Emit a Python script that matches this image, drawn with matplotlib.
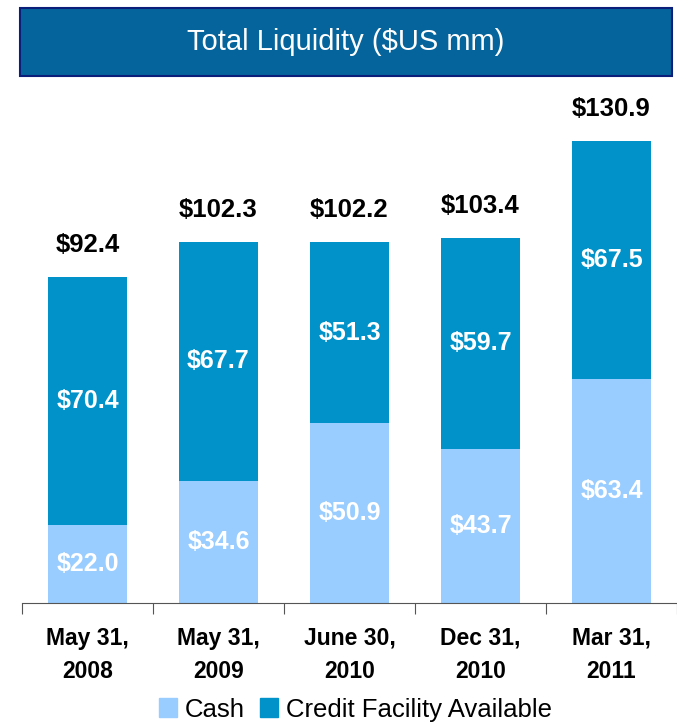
import matplotlib
matplotlib.use("Agg")
import matplotlib.pyplot as plt
from matplotlib.patches import Rectangle, Patch

# 数据
dates = ["May 31,\n2008", "May 31,\n2009", "June 30,\n2010", "Dec 31,\n2010", "Mar 31,\n2011"]
cash = [22.0, 34.6, 50.9, 43.7, 63.4]
credit = [70.4, 67.7, 51.3, 59.7, 67.5]
totals = [92.4, 102.3, 102.2, 103.4, 130.9]

cash_color = "#99CCFF"
credit_color = "#0092C8"

plt.rcParams["font.family"] = ["Liberation Sans", "DejaVu Sans"]

fig = plt.figure(figsize=(6.77, 7.24), dpi=100)

# 标题横幅
fig.patches.append(Rectangle((0.0295, 0.895), 0.963, 0.094, transform=fig.transFigure,
                             facecolor="#05649C", edgecolor="#0B1F7A", linewidth=1.5))
fig.text(0.511, 0.942, "Total Liquidity ($US mm)", color="white", fontsize=21,
         ha="center", va="center")

ax = fig.add_axes([22 / 677, 0.1671, 1 - 22 / 677, 0.7072])
x = range(len(dates))
ax.bar(x, cash, width=0.6, color=cash_color, label="Cash")
ax.bar(x, credit, width=0.6, bottom=cash, color=credit_color, label="Credit Facility Available")

# 柱内数值
for i in x:
    ax.text(i, cash[i] / 2, "$%.1f" % cash[i], color="white", fontsize=18,
            fontweight="bold", ha="center", va="center")
    ax.text(i, cash[i] + credit[i] / 2, "$%.1f" % credit[i], color="white", fontsize=18,
            fontweight="bold", ha="center", va="center")
    ax.annotate("$%.1f" % totals[i], (i, totals[i]), xytext=(0, 23), textcoords="offset points",
                fontsize=18.5, fontweight="bold", ha="center", va="center", color="black")

ax.set_xlim(-0.5, 4.5)
ax.set_ylim(0, 145)
ax.set_yticks([])
for s in ["top", "right", "left"]:
    ax.spines[s].set_visible(False)
ax.spines["bottom"].set_color("#555555")
ax.set_xticks([i - 0.5 for i in range(len(dates) + 1)])
ax.set_xticklabels([])
ax.tick_params(axis="x", which="major", length=8, color="#555555", direction="out")
ax.set_xticks(list(x), minor=True)
ax.set_xticklabels(dates, minor=True, fontsize=16.5, fontweight="bold", linespacing=1.6)
ax.tick_params(axis="x", which="minor", length=0, pad=17)

handles = [Patch(color=cash_color), Patch(color=credit_color)]
fig.legend(handles, ["Cash", "Credit Facility Available"], loc="center",
           bbox_to_anchor=(0.525, 0.02), ncol=2, frameon=False, fontsize=18.5,
           handlelength=0.7, handleheight=0.8, handletextpad=0.3, columnspacing=0.6,
           borderpad=0)

plt.savefig("out.png", dpi=100)
